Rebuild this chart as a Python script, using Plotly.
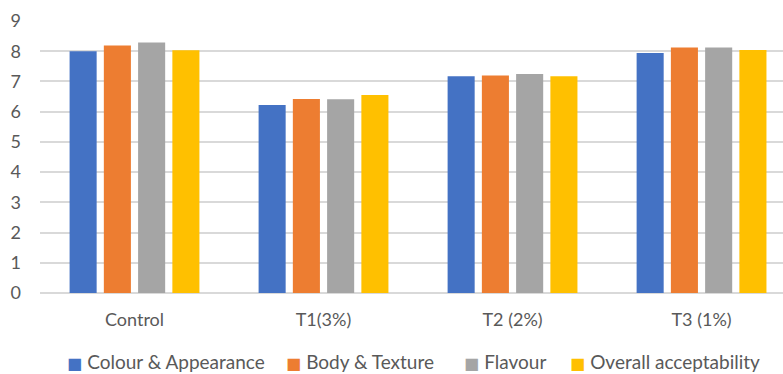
import plotly.graph_objects as go

# Sensory scores by treatment
treatments = ["Control", "T1(3%)", "T2 (2%)", "T3 (1%)"]
colour_appearance = [8.0, 6.22, 7.17, 7.94]
body_texture = [8.19, 6.42, 7.2, 8.12]
flavour = [8.29, 6.41, 7.25, 8.12]
overall_acceptability = [8.03, 6.55, 7.17, 8.04]

series_names = ["Colour & Appearance", "Body & Texture", "Flavour", "Overall acceptability"]
series_values = [colour_appearance, body_texture, flavour, overall_acceptability]
series_colors = ["#4472C4", "#ED7D31", "#A5A5A5", "#FFC000"]

# horizontal placement (paper fraction) of each legend entry
legend_x = [0.0345, 0.3300, 0.5690, 0.7115]

font_family = "Lato, 'Open Sans', sans-serif"
text_color = "#595959"

fig = go.Figure()
for name, vals, col in zip(series_names, series_values, series_colors):
    fig.add_trace(go.Bar(
        x=treatments, y=vals, name=name,
        marker=dict(color=col, line=dict(width=0)),
        showlegend=False,
    ))

# legend drawn as a row of coloured square glyphs followed by the series name
for name, col, lx in zip(series_names, series_colors, legend_x):
    fig.add_annotation(
        xref="paper", yref="paper", x=lx, y=-0.25,
        xanchor="left", yanchor="middle", showarrow=False, borderpad=0,
        text=(f"<span style='color:{col};font-family:DejaVu Sans;font-size:16px'>■ </span>"
              f"{name}"),
        font=dict(family=font_family, size=19, color=text_color),
    )

fig.update_layout(
    width=783, height=374,
    margin=dict(l=40, r=0, t=21, b=81),
    paper_bgcolor="white", plot_bgcolor="white",
    barmode="group", bargap=0.275, bargroupgap=0.21,
    font=dict(family=font_family, size=18, color=text_color),
    showlegend=False,
    xaxis=dict(range=[-0.5, 3.431], showgrid=False, showline=False, ticks="",
               ticklabelstandoff=14,
               tickfont=dict(size=18, color=text_color)),
    yaxis=dict(range=[0, 9], dtick=1, showgrid=True, gridcolor="#D9D9D9", gridwidth=1.5,
               zeroline=True, zerolinecolor="#D9D9D9", zerolinewidth=1.5,
               ticks="", ticklabelstandoff=18,
               tickfont=dict(size=18, color=text_color)),
)

fig.write_html("out.html")
